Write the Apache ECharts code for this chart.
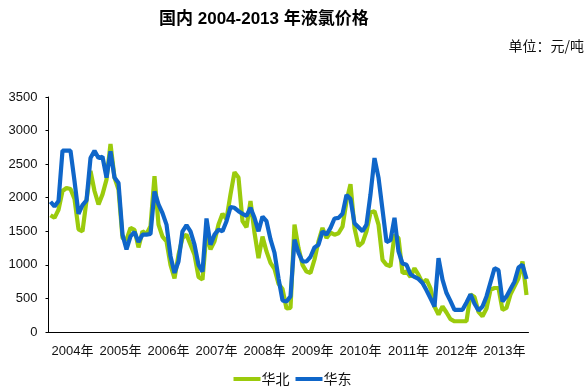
<!DOCTYPE html>
<html>
<head>
<meta charset="utf-8">
<script src="https://cdn.jsdelivr.net/npm/echarts@6/dist/echarts.min.js"></script>
<style>html,body{margin:0;padding:0;background:#fff;}#c{width:585px;height:387px;}</style>
</head>
<body>
<div id="c"></div>
<script>
var years = ['2004年','2005年','2006年','2007年','2008年','2009年','2010年','2011年','2012年','2013年'];
var seriesNames = ['华北','华东'];
// monthly prices, 2004-01 .. 2013-12
var huabei = [
  1740,1700,1820,2100,2145,2130,1980,1530,1500,1960,2400,2100,
  1900,2050,2270,2800,2300,2120,1400,1375,1550,1520,1260,1500,
  1460,1575,2320,1600,1420,1350,1000,800,1150,1400,1450,1300,
  1150,820,780,1480,1230,1350,1600,1760,1680,2050,2380,2300,
  1650,1560,1950,1480,1100,1420,1200,1030,940,720,640,350,
  360,1600,1250,1000,900,880,1080,1350,1550,1400,1480,1450,
  1470,1570,1950,2200,1550,1280,1330,1500,1780,1800,1600,1075,
  1000,980,1450,1400,880,900,820,950,850,730,780,650,
  380,260,380,290,190,160,160,160,160,560,520,300,
  235,350,630,655,655,330,360,560,680,800,1050,550
];
var huadong = [
  1940,1870,1950,2700,2700,2700,2250,1760,1890,1960,2590,2700,
  2590,2610,2300,2690,2300,2220,1450,1230,1425,1490,1340,1450,
  1450,1460,2095,1900,1770,1600,1130,880,1050,1500,1590,1500,
  1300,1000,900,1690,1300,1450,1525,1500,1650,1860,1850,1800,
  1760,1730,1850,1700,1500,1720,1650,1380,1180,800,470,455,
  530,1375,1180,1050,1050,1120,1260,1300,1500,1450,1550,1690,
  1700,1760,2040,1980,1620,1560,1500,1600,2050,2590,2300,1820,
  1340,1370,1700,1200,1020,1000,860,820,790,730,620,500,
  380,1100,780,580,460,330,330,330,440,560,420,320,
  380,530,740,950,920,455,530,640,750,960,1000,790
];
var months = [];
for (var y = 0; y < years.length; y++) {
  for (var m = 1; m <= 12; m++) months.push(years[y].slice(0,4) + '-' + (m < 10 ? '0' + m : m));
}
var yTicks = {min: 0, max: 3500, interval: 500};

var chart = echarts.init(document.getElementById('c'), null, {renderer: 'canvas'});
var font = 'Liberation Sans, Noto Sans CJK SC, sans-serif';
chart.setOption({
  animation: false,
  backgroundColor: '#fff',
  title: {
    text: '国内 2004-2013 年液氯价格',
    left: 154, top: 6,
    textStyle: {fontSize: 17, fontWeight: 'bold', color: '#000', fontFamily: 'Liberation Sans, Noto Sans CJK SC, sans-serif'}
  },
  graphic: [{
    type: 'text', right: 1, top: 39,
    style: {text: '单位：元/吨', fontSize: 14, fill: '#111', fontFamily: 'Noto Sans CJK SC, sans-serif'}
  }],
  legend: {
    data: seriesNames,
    left: 'center', top: 367,
    icon: 'rect', itemWidth: 27, itemHeight: 4, itemGap: 6,
    textStyle: {fontSize: 14, color: '#111', fontFamily: 'Noto Sans CJK SC, sans-serif', padding: [0,0,0,-4]}
  },
  grid: {left: 48.5, right: 56.5, top: 97, bottom: 55, containLabel: false},
  xAxis: [{
    type: 'category', data: years, boundaryGap: true,
    axisLine: {lineStyle: {color: '#000', width: 1}},
    axisTick: {inside: true, length: 5, lineStyle: {color: '#000'}},
    axisLabel: {interval: 0, fontSize: 13, color: '#111', margin: 13, fontFamily: font}
  }, {
    type: 'category', data: months, boundaryGap: true, show: false
  }],
  yAxis: {
    type: 'value', min: yTicks.min, max: yTicks.max, interval: yTicks.interval,
    axisLine: {show: true, lineStyle: {color: '#000', width: 1}},
    axisTick: {show: true, length: 3, lineStyle: {color: '#000'}},
    splitLine: {show: false},
    axisLabel: {fontSize: 13, color: '#111', margin: 11, fontFamily: font,
      formatter: function (v) { return String(v); }}
  },
  series: [{
    name: seriesNames[0], type: 'line', xAxisIndex: 1, data: huabei,
    showSymbol: false, symbol: 'none', color: '#9BCB0C',
    lineStyle: {width: 4.2, color: '#9BCB0C'}
  }, {
    name: seriesNames[1], type: 'line', xAxisIndex: 1, data: huadong,
    showSymbol: false, symbol: 'none', color: '#0F66C9',
    lineStyle: {width: 4.2, color: '#0F66C9'}
  }]
});
</script>
</body>
</html>
